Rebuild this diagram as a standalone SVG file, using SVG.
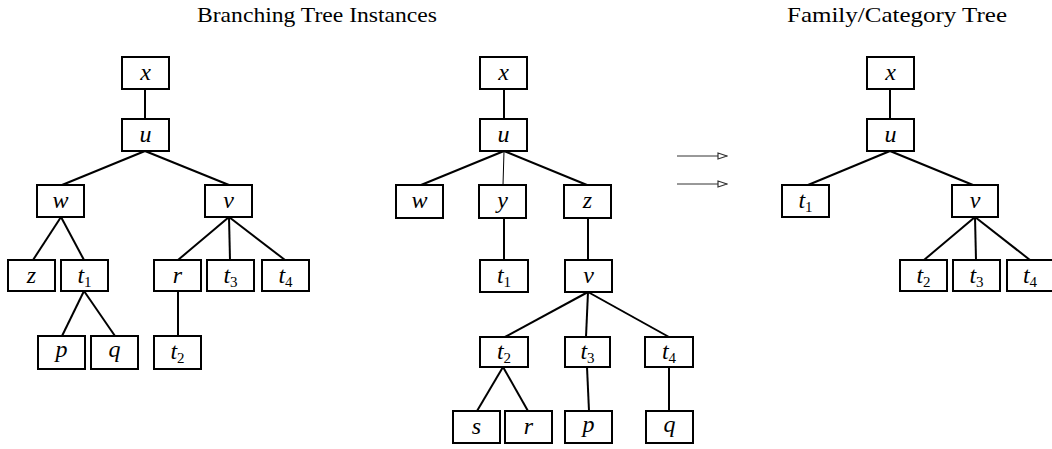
<svg xmlns="http://www.w3.org/2000/svg" width="1052" height="449" viewBox="0 0 1052 449">
<style>
.b{fill:#fff;stroke:#000;stroke-width:2}
.l{font-family:"Liberation Serif","DejaVu Serif",serif;font-style:italic;font-size:24px;text-anchor:middle}
.s{font-style:normal;font-size:15px}
.t{font-family:"Liberation Serif","DejaVu Serif",serif;font-size:22px;text-anchor:middle}
.e{stroke:#000;stroke-width:2;fill:none}
.thin{stroke:#000;stroke-width:1;fill:none}
.a{stroke:#333;stroke-width:1;fill:none}
</style>
<defs>
<marker id="ah" markerWidth="11" markerHeight="8" refX="10" refY="4" orient="auto" markerUnits="userSpaceOnUse">
<path d="M1,1 L10,4 L1,7 Z" fill="#fff" stroke="#333" stroke-width="1.2"/>
</marker>
</defs>
<text class="t" x="317" y="22" textLength="240" lengthAdjust="spacingAndGlyphs">Branching Tree Instances</text>
<text class="t" x="897" y="22" textLength="220" lengthAdjust="spacingAndGlyphs">Family/Category Tree</text>
<g id="connectors">
<line class="e" x1="145" y1="89" x2="145" y2="119"/>
<line class="e" x1="145" y1="151" x2="62" y2="185"/>
<line class="e" x1="145" y1="151" x2="229" y2="185"/>
<line class="e" x1="61" y1="217" x2="33" y2="260"/>
<line class="e" x1="61" y1="217" x2="84" y2="260"/>
<line class="e" x1="229" y1="217" x2="178" y2="260"/>
<line class="e" x1="229" y1="217" x2="230" y2="260"/>
<line class="e" x1="229" y1="217" x2="285" y2="260"/>
<line class="e" x1="84" y1="291" x2="62" y2="336"/>
<line class="e" x1="84" y1="291" x2="115" y2="336"/>
<line class="e" x1="178" y1="291" x2="178" y2="336"/>
<line class="e" x1="504" y1="89" x2="504" y2="119"/>
<line class="e" x1="504" y1="151" x2="421" y2="185"/>
<line class="thin" x1="504" y1="151" x2="503" y2="185"/>
<line class="e" x1="504" y1="151" x2="587" y2="185"/>
<line class="e" x1="504" y1="218" x2="504" y2="260"/>
<line class="e" x1="588" y1="218" x2="588" y2="260"/>
<line class="e" x1="588" y1="292" x2="505" y2="337"/>
<line class="e" x1="588" y1="292" x2="586" y2="337"/>
<line class="e" x1="588" y1="292" x2="669" y2="337"/>
<line class="e" x1="503" y1="367" x2="477" y2="411"/>
<line class="e" x1="503" y1="367" x2="528" y2="411"/>
<line class="e" x1="587" y1="367" x2="589" y2="411"/>
<line class="e" x1="669" y1="367" x2="669" y2="411"/>
<line class="a" x1="677" y1="156" x2="727" y2="156" marker-end="url(#ah)"/>
<line class="a" x1="677" y1="184" x2="727" y2="184" marker-end="url(#ah)"/>
<line class="e" x1="890" y1="89" x2="890" y2="119"/>
<line class="e" x1="890" y1="151" x2="808" y2="185"/>
<line class="e" x1="890" y1="151" x2="973" y2="185"/>
<line class="e" x1="975" y1="217" x2="924" y2="260"/>
<line class="e" x1="975" y1="217" x2="976" y2="260"/>
<line class="e" x1="975" y1="217" x2="1030" y2="260"/>
</g>
<g id="L_x"><rect class="b" x="122" y="57" width="47" height="32"/><text class="l" x="145.5" y="80">x</text></g>
<g id="L_u"><rect class="b" x="122" y="119" width="47" height="32"/><text class="l" x="145.5" y="142">u</text></g>
<g id="L_w"><rect class="b" x="37" y="185" width="47" height="32"/><text class="l" x="60.5" y="208">w</text></g>
<g id="L_v"><rect class="b" x="205" y="185" width="47" height="32"/><text class="l" x="228.5" y="208">v</text></g>
<g id="L_z"><rect class="b" x="8" y="260" width="47" height="31"/><text class="l" x="31.5" y="283">z</text></g>
<g id="L_t1"><rect class="b" x="61" y="260" width="47" height="31"/><text class="l" x="84.5" y="283">t<tspan class="s" dy="4">1</tspan></text></g>
<g id="L_r"><rect class="b" x="154" y="260" width="47" height="31"/><text class="l" x="177.5" y="283">r</text></g>
<g id="L_t3"><rect class="b" x="207" y="260" width="47" height="31"/><text class="l" x="230.5" y="283">t<tspan class="s" dy="4">3</tspan></text></g>
<g id="L_t4"><rect class="b" x="262" y="260" width="47" height="31"/><text class="l" x="285.5" y="283">t<tspan class="s" dy="4">4</tspan></text></g>
<g id="L_p"><rect class="b" x="38" y="336" width="47" height="33"/><text class="l" x="61.5" y="357">p</text></g>
<g id="L_q"><rect class="b" x="91" y="336" width="47" height="33"/><text class="l" x="114.5" y="357">q</text></g>
<g id="L_t2"><rect class="b" x="154" y="336" width="47" height="33"/><text class="l" x="177.5" y="359">t<tspan class="s" dy="4">2</tspan></text></g>
<g id="M_x"><rect class="b" x="480" y="57" width="47" height="32"/><text class="l" x="503.5" y="80">x</text></g>
<g id="M_u"><rect class="b" x="480" y="119" width="47" height="32"/><text class="l" x="503.5" y="142">u</text></g>
<g id="M_w"><rect class="b" x="396" y="185" width="47" height="33"/><text class="l" x="419.5" y="208">w</text></g>
<g id="M_y"><rect class="b" x="479" y="185" width="47" height="33"/><text class="l" x="502.5" y="208">y</text></g>
<g id="M_z"><rect class="b" x="564" y="185" width="47" height="33"/><text class="l" x="587.5" y="208">z</text></g>
<g id="M_t1"><rect class="b" x="480" y="260" width="48" height="32"/><text class="l" x="504" y="283">t<tspan class="s" dy="4">1</tspan></text></g>
<g id="M_v"><rect class="b" x="565" y="260" width="47" height="32"/><text class="l" x="588.5" y="283">v</text></g>
<g id="M_t2"><rect class="b" x="480" y="337" width="48" height="30"/><text class="l" x="504" y="359">t<tspan class="s" dy="4">2</tspan></text></g>
<g id="M_t3"><rect class="b" x="565" y="337" width="45" height="30"/><text class="l" x="587.5" y="359">t<tspan class="s" dy="4">3</tspan></text></g>
<g id="M_t4"><rect class="b" x="645" y="337" width="48" height="30"/><text class="l" x="669" y="359">t<tspan class="s" dy="4">4</tspan></text></g>
<g id="M_s"><rect class="b" x="453" y="411" width="47" height="32"/><text class="l" x="476.5" y="434">s</text></g>
<g id="M_r"><rect class="b" x="505" y="411" width="47" height="32"/><text class="l" x="528.5" y="434">r</text></g>
<g id="M_p"><rect class="b" x="565" y="411" width="47" height="32"/><text class="l" x="588.5" y="432">p</text></g>
<g id="M_q"><rect class="b" x="646" y="411" width="47" height="32"/><text class="l" x="669.5" y="432">q</text></g>
<g id="R_x"><rect class="b" x="867" y="57" width="47" height="32"/><text class="l" x="890.5" y="80">x</text></g>
<g id="R_u"><rect class="b" x="867" y="119" width="47" height="32"/><text class="l" x="890.5" y="142">u</text></g>
<g id="R_t1"><rect class="b" x="782" y="185" width="47" height="32"/><text class="l" x="805.5" y="208">t<tspan class="s" dy="4">1</tspan></text></g>
<g id="R_v"><rect class="b" x="952" y="185" width="46" height="32"/><text class="l" x="975" y="208">v</text></g>
<g id="R_t2"><rect class="b" x="900" y="260" width="47" height="31"/><text class="l" x="923.5" y="283">t<tspan class="s" dy="4">2</tspan></text></g>
<g id="R_t3"><rect class="b" x="953" y="260" width="47" height="31"/><text class="l" x="976.5" y="283">t<tspan class="s" dy="4">3</tspan></text></g>
<g id="R_t4"><rect class="b" x="1007" y="260" width="46" height="31"/><text class="l" x="1030" y="283">t<tspan class="s" dy="4">4</tspan></text></g>
</svg>
